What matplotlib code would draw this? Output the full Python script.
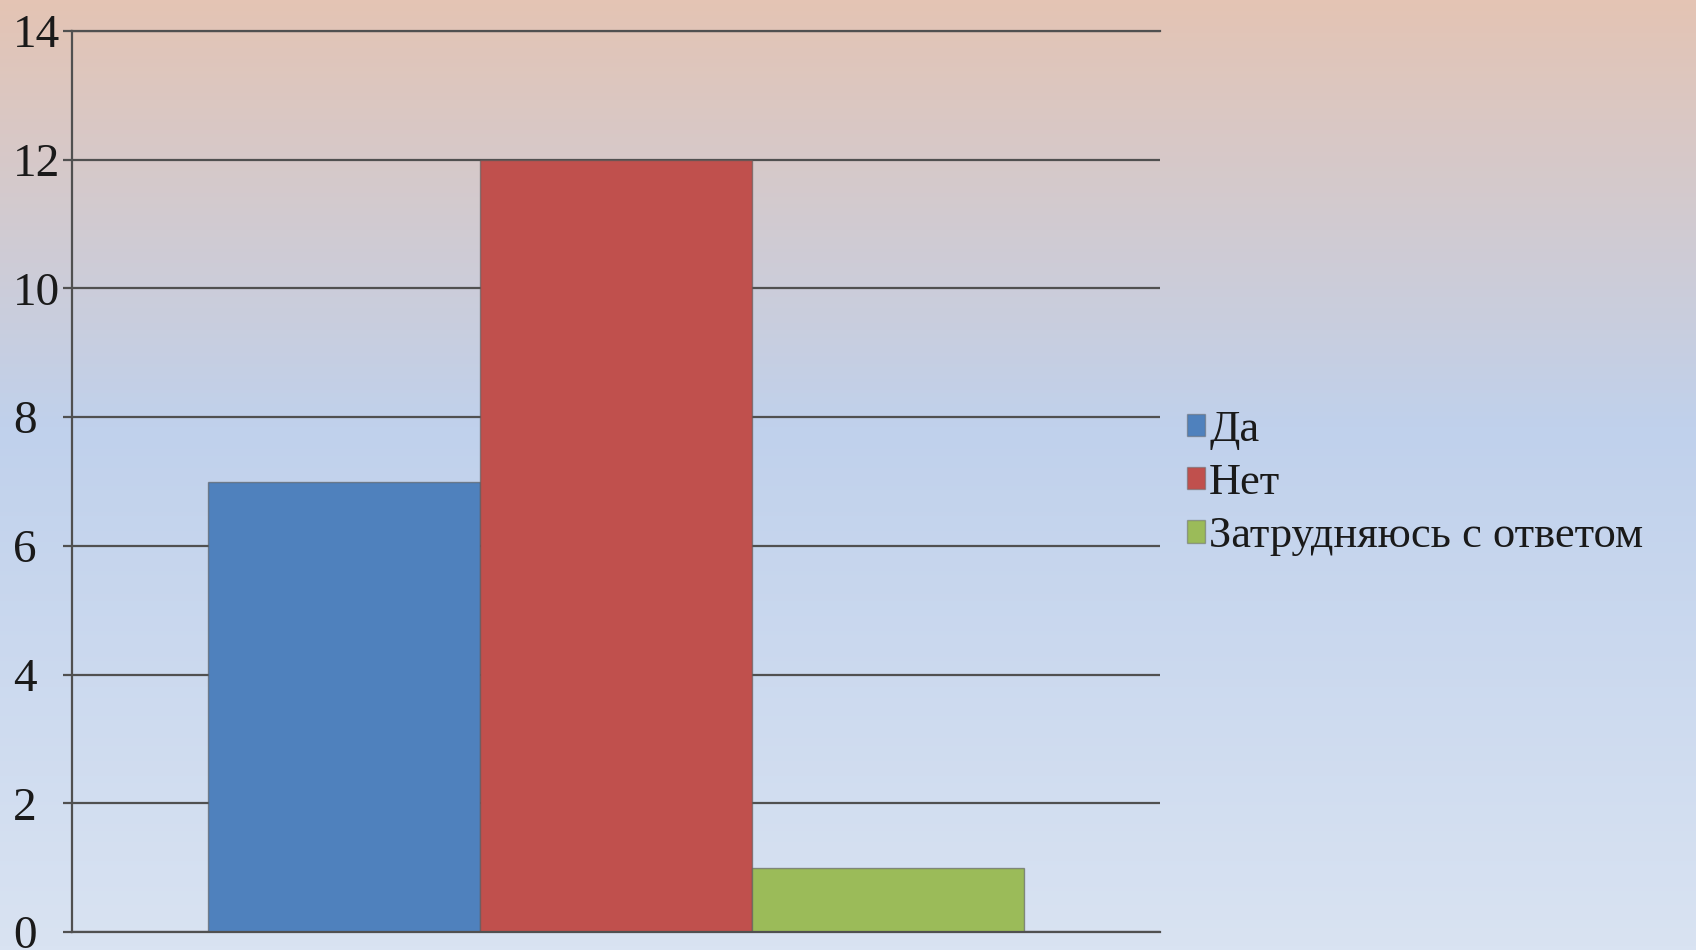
import numpy as np
import matplotlib.pyplot as plt
from matplotlib.colors import LinearSegmentedColormap
from matplotlib.patches import Patch

# data
answers = ['Да', 'Нет', 'Затрудняюсь с ответом']
counts = [7, 12, 1]
bar_colors = ['#4F81BD', '#C0504D', '#9BBB59']
y_ticks = [0, 2, 4, 6, 8, 10, 12, 14]

plt.rcParams['font.family'] = ['Liberation Serif', 'DejaVu Serif']

fig = plt.figure(figsize=(16.96, 9.5), dpi=100)

# background gradient (peach at top -> blue -> light blue)
bg = fig.add_axes([0, 0, 1, 1], zorder=-10)
cmap = LinearSegmentedColormap.from_list(
    'bg', [(0.0, '#E4C4B4'), (0.45, '#C0D1EC'), (1.0, '#D9E3F2')])
bg.imshow(np.linspace(0, 1, 256).reshape(-1, 1), aspect='auto', cmap=cmap,
          extent=[0, 1, 0, 1])
bg.set_axis_off()

ax = fig.add_axes([72 / 1696, 1 - 932 / 950, (1160 - 72) / 1696, (932 - 31) / 950])
ax.patch.set_alpha(0)

x = np.arange(len(counts)) - 1
ax.bar(x, counts, width=1.0, color=bar_colors, edgecolor=(0.35, 0.35, 0.35, 0.6),
       linewidth=1.0, zorder=2)

line_col = '#505050'
ax.set_xlim(-2, 2)
ax.set_ylim(0, 14)
ax.set_yticks(y_ticks)
ax.set_xticks([])
ax.set_axisbelow(True)
ax.yaxis.grid(True, color=line_col, linewidth=1.6)
for side in ['top', 'bottom', 'left']:
    ax.spines[side].set_color(line_col)
    ax.spines[side].set_linewidth(1.6)
ax.spines['right'].set_visible(False)
# labels are left-aligned at the figure edge in the original
ax.tick_params(axis='y', direction='out', length=6.5, width=1.6, color=line_col,
               pad=36, labelsize=34, labelcolor='#1a1a1a')
for lbl in ax.get_yticklabels():
    lbl.set_horizontalalignment('left')

handles = [Patch(facecolor=c, edgecolor=(0.4, 0.4, 0.4, 0.5)) for c in bar_colors]
fig.legend(handles, answers, loc='center left', bbox_to_anchor=(1187 / 1696, 1 - 483 / 950),
           frameon=False, fontsize=32, handlelength=0.4, handleheight=0.4,
           handletextpad=0.1, labelspacing=0.3, borderpad=0, borderaxespad=0,
           labelcolor='#1a1a1a')

fig.savefig('out.png', dpi=100)
